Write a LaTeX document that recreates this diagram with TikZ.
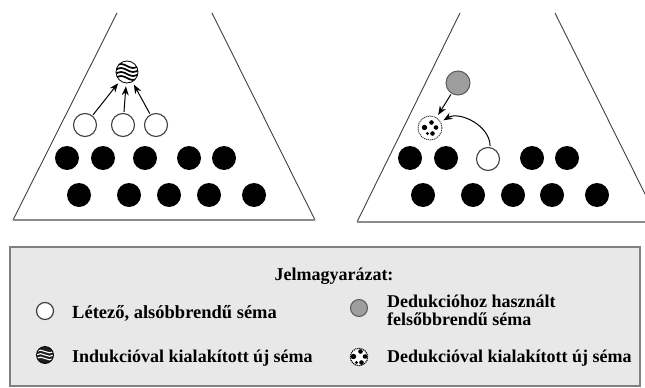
\documentclass[tikz,border=0pt]{standalone}
\usepackage{fontspec}
\setmainfont{Liberation Serif}
\usetikzlibrary{arrows.meta}
\begin{document}
\begin{tikzpicture}[x=1pt,y=-1pt,
  blackdot/.style={circle,fill=black,minimum size=24pt,inner sep=0pt},
  whitedot/.style={circle,draw=black!75,fill=white,line width=1.1pt,minimum size=#1,inner sep=0pt},
  whitedot/.default=23pt,
  graydot/.style={circle,draw=black!65,fill=black!38,line width=1pt,minimum size=#1,inner sep=0pt},
  graydot/.default=24pt,
  stripeball/.style={circle,draw=black,fill=white,line width=0.8pt,minimum size=22pt,inner sep=0pt,
    path picture={\begin{scope}[shift={(path picture bounding box.center)}]
      \foreach \dy in {-6,-2,2,6}{\draw[black,line width=1.7pt] (-12,\dy) sin (-6,\dy-2) cos (0,\dy) sin (6,\dy+2) cos (12,\dy);}
    \end{scope}}},
  stripelegend/.style={circle,draw=black,fill=black!88,line width=0.8pt,minimum size=17pt,inner sep=0pt,
    path picture={\begin{scope}[shift={(path picture bounding box.center)}]
      \foreach \dy in {-3.5,0,3.5}{\draw[white,line width=1.1pt] (-9,\dy) sin (-4.5,\dy-1.3) cos (0,\dy) sin (4.5,\dy+1.3) cos (9,\dy);}
    \end{scope}}},
  dotball/.style={circle,draw=black!80,dash pattern=on 1.2pt off 0.8pt,fill=white,line width=0.9pt,minimum size=#1*24pt,inner sep=0pt,
    path picture={\begin{scope}[shift={(path picture bounding box.center)},scale=#1]
      \fill[black] (-5.5,-0.5) circle (2.7); \fill[black] (1.5,-5.5) circle (2.3); \fill[black] (6,-0.5) circle (2.3);
      \fill[black] (2.5,5.5) circle (2.3); \fill[black] (-2.5,5.5) circle (1.6);
    \end{scope}}},
  arr/.style={-{Stealth[length=9pt,width=7pt]},line width=1pt,shorten >=3pt,shorten <=1pt},
  tri/.style={draw=black!75,line width=0.9pt},
  basel/.style={draw=black!45,line width=2pt},
  lbl/.style={anchor=base west,inner sep=0pt,font=\bfseries\fontsize{18}{19}\selectfont}
]
\useasboundingbox (0,0) rectangle (645,388);
\begin{scope}
\clip (0,0) rectangle (645,388);
% left trapezoid
\draw[tri] (117,13) -- (13,220);
\draw[tri] (212,13) -- (315,220);
\draw[basel] (13,220) -- (315,220);
% right trapezoid
\draw[tri] (460,13) -- (357,222);
\draw[tri] (555,13) -- (659,222);
\draw[basel] (357,222) -- (645,222);
\end{scope}
% left black rows
\foreach \x [count=\i] in {67,103,145,189,224}{\node[blackdot] (la\i) at (\x,158) {};}
\foreach \x [count=\i] in {79,129,169,209,254}{\node[blackdot] (lb\i) at (\x,195) {};}
% left white
\node[whitedot] (lw1) at (85,125) {};
\node[whitedot] (lw2) at (123,125) {};
\node[whitedot] (lw3) at (156,125) {};
\node[stripeball] (ls) at (127,72) {};
\draw[arr] (lw1) -- (ls);
\draw[arr] (lw2) -- (ls);
\draw[arr] (lw3) -- (ls);
% right black rows
\foreach \x [count=\i] in {410,446,532,567}{\node[blackdot] (ra\i) at (\x,158) {};}
\foreach \x [count=\i] in {423,473,513,552,597}{\node[blackdot] (rb\i) at (\x,195) {};}
\node[whitedot] (rw) at (488,159) {};
\node[graydot] (rg) at (458,83) {};
\node[dotball=1] (rd) at (430,128) {};
\draw[arr] (rg) -- (rd);
\draw[arr] (rw.80) to[out=90,in=30] (rd);
% legend
\draw[draw=black!50,line width=1.6pt,fill=black!9] (10,247) rectangle (640,386);
\node[lbl,anchor=base] (title) at (334,280) {Jelmagyarázat:};
\node[whitedot=17pt,line width=1.2pt] (k1) at (45,311) {};
\node[lbl,font=\bfseries\fontsize{18.5}{19}\selectfont] (t1) at (72,318) {Létező, alsóbbrendű séma};
\node[stripelegend] (k2) at (45,355) {};
\node[lbl] (t2) at (72,362) {Indukcióval kialakított új séma};
\node[graydot=17pt] (k3) at (359,308) {};
\node[lbl] (t3a) at (387,307) {Dedukcióhoz használt};
\node[lbl] (t3b) at (387,325) {felsőbbrendű séma};
\node[dotball=0.72,draw=black,line width=1.1pt] (k4) at (359,357) {};
\node[lbl] (t4) at (387,362) {Dedukcióval kialakított új séma};
\end{tikzpicture}
\end{document}
